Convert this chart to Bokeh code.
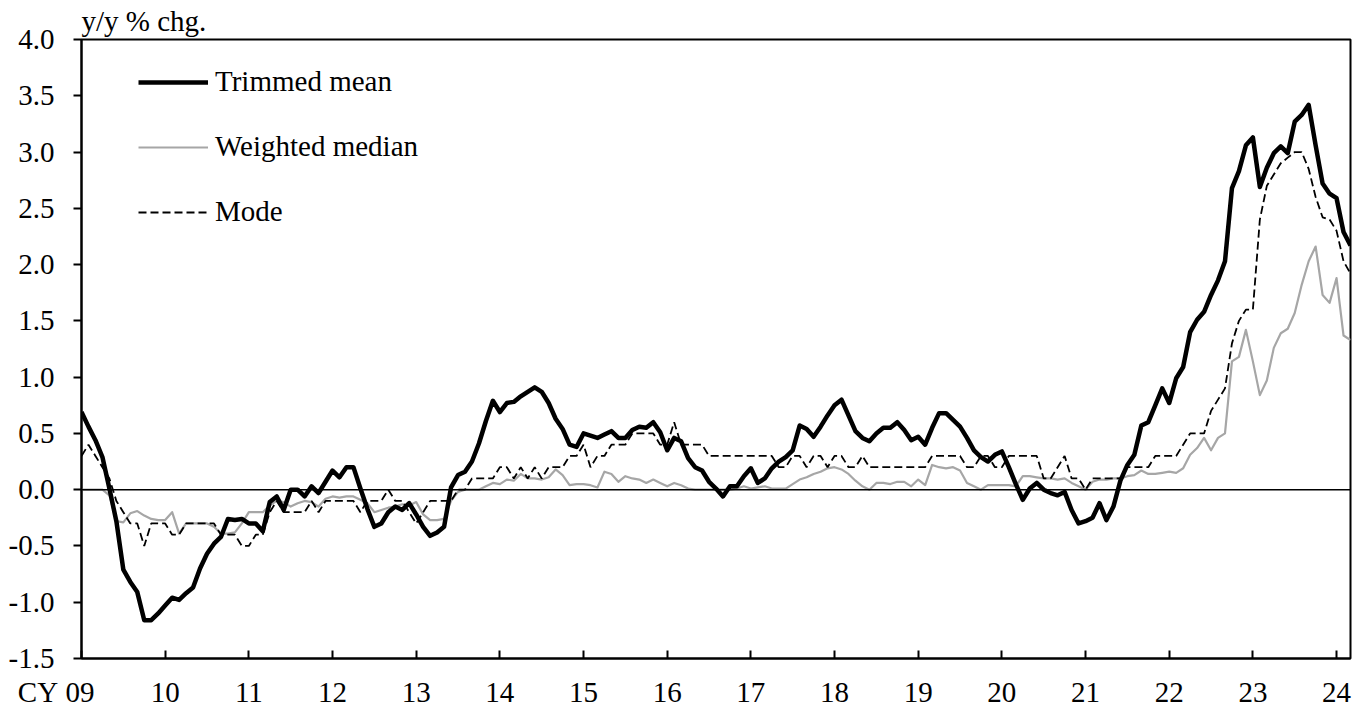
from bokeh.plotting import figure
from bokeh.models import Range1d, FixedTicker, Span, Legend, LegendItem, Title
from bokeh.embed import file_html
from bokeh.resources import INLINE

# Monthly data, Jan 2009 (CY 09) .. Mar 2024, y/y % chg.
trimmed_mean = [
    0.69, 0.56, 0.44, 0.29, 0.01, -0.28, -0.71, -0.82, -0.91, -1.16,
    -1.16, -1.10, -1.03, -0.96, -0.98, -0.92, -0.87, -0.70, -0.57, -0.48,
    -0.42, -0.26, -0.27, -0.26, -0.30, -0.30, -0.37, -0.11, -0.06, -0.18,
    0.00, 0.00, -0.06, 0.03, -0.03, 0.07, 0.17, 0.11, 0.20, 0.20,
    0.01, -0.17, -0.33, -0.30, -0.20, -0.15, -0.18, -0.12, -0.22, -0.33,
    -0.41, -0.38, -0.33, 0.02, 0.13, 0.16, 0.25, 0.41, 0.61, 0.79,
    0.69, 0.77, 0.78, 0.83, 0.87, 0.91, 0.87, 0.77, 0.63, 0.54,
    0.40, 0.38, 0.50, 0.48, 0.46, 0.49, 0.52, 0.46, 0.46, 0.53,
    0.56, 0.55, 0.60, 0.51, 0.35, 0.46, 0.43, 0.28, 0.20, 0.17,
    0.07, 0.01, -0.06, 0.03, 0.03, 0.12, 0.19, 0.06, 0.10, 0.19,
    0.25, 0.29, 0.35, 0.57, 0.54, 0.47, 0.56, 0.66, 0.75, 0.80,
    0.66, 0.52, 0.46, 0.43, 0.50, 0.55, 0.55, 0.60, 0.53, 0.44,
    0.47, 0.40, 0.55, 0.68, 0.68, 0.62, 0.56, 0.46, 0.35, 0.29,
    0.25, 0.31, 0.34, 0.20, 0.05, -0.09, 0.01, 0.06, 0.00, -0.03,
    -0.05, -0.02, -0.18, -0.30, -0.28, -0.25, -0.12, -0.27, -0.15, 0.08,
    0.22, 0.31, 0.57, 0.60, 0.75, 0.90, 0.77, 0.99, 1.09, 1.40,
    1.51, 1.58, 1.73, 1.86, 2.03, 2.68, 2.83, 3.06, 3.13, 2.69,
    2.86, 2.99, 3.05, 2.99, 3.27, 3.33, 3.42, 3.06, 2.72, 2.63,
    2.59, 2.29, 2.17,
]

weighted_median = [
    0.00, 0.00, 0.00, 0.00, -0.05, -0.28, -0.29, -0.21, -0.19, -0.23,
    -0.26, -0.27, -0.27, -0.20, -0.39, -0.30, -0.30, -0.30, -0.30, -0.33,
    -0.39, -0.39, -0.38, -0.30, -0.20, -0.20, -0.20, -0.14, -0.10, -0.11,
    -0.15, -0.12, -0.10, -0.11, -0.15, -0.08, -0.06, -0.07, -0.06, -0.06,
    -0.09, -0.12, -0.20, -0.18, -0.16, -0.15, -0.13, -0.14, -0.11, -0.22,
    -0.27, -0.27, -0.26, -0.10, -0.02, 0.00, 0.00, 0.00, 0.03, 0.06,
    0.05, 0.09, 0.08, 0.14, 0.10, 0.10, 0.09, 0.11, 0.18, 0.13,
    0.04, 0.05, 0.05, 0.04, 0.02, 0.16, 0.14, 0.07, 0.12, 0.10,
    0.09, 0.06, 0.09, 0.06, 0.03, 0.06, 0.04, 0.01, 0.00, 0.00,
    0.00, 0.00, 0.00, 0.00, 0.01, 0.03, 0.01, 0.02, 0.03, 0.01,
    0.01, 0.01, 0.05, 0.09, 0.11, 0.14, 0.16, 0.19, 0.20, 0.18,
    0.14, 0.08, 0.03, 0.00, 0.06, 0.06, 0.05, 0.07, 0.07, 0.03,
    0.09, 0.04, 0.22, 0.20, 0.19, 0.20, 0.17, 0.06, 0.03, 0.00,
    0.04, 0.04, 0.04, 0.04, 0.03, 0.12, 0.12, 0.11, 0.10, 0.10,
    0.09, 0.10, 0.06, 0.03, 0.00, 0.07, 0.09, 0.09, 0.10, 0.10,
    0.12, 0.13, 0.17, 0.14, 0.14, 0.15, 0.16, 0.15, 0.19, 0.31,
    0.37, 0.46, 0.35, 0.46, 0.50, 1.14, 1.18, 1.42, 1.14, 0.84,
    0.97, 1.26, 1.39, 1.43, 1.57, 1.82, 2.03, 2.16, 1.73, 1.66,
    1.88, 1.37, 1.33,
]

mode = [
    0.3, 0.4, 0.3, 0.2, 0.1, -0.1, -0.2, -0.3, -0.3, -0.5,
    -0.3, -0.3, -0.3, -0.4, -0.4, -0.3, -0.3, -0.3, -0.3, -0.3,
    -0.4, -0.4, -0.4, -0.5, -0.5, -0.4, -0.4, -0.2, -0.1, -0.2,
    -0.2, -0.2, -0.2, -0.1, -0.2, -0.1, -0.1, -0.1, -0.1, -0.1,
    -0.2, -0.1, -0.1, -0.1, 0.0, -0.1, -0.1, -0.2, -0.3, -0.2,
    -0.1, -0.1, -0.1, -0.1, 0.0, 0.0, 0.1, 0.1, 0.1, 0.1,
    0.2, 0.2, 0.1, 0.2, 0.1, 0.2, 0.1, 0.2, 0.2, 0.2,
    0.3, 0.3, 0.4, 0.2, 0.3, 0.3, 0.4, 0.4, 0.4, 0.5,
    0.5, 0.5, 0.5, 0.4, 0.4, 0.6, 0.4, 0.4, 0.4, 0.4,
    0.3, 0.3, 0.3, 0.3, 0.3, 0.3, 0.3, 0.3, 0.3, 0.3,
    0.2, 0.2, 0.3, 0.3, 0.2, 0.3, 0.3, 0.2, 0.3, 0.3,
    0.2, 0.2, 0.3, 0.2, 0.2, 0.2, 0.2, 0.2, 0.2, 0.2,
    0.2, 0.2, 0.3, 0.3, 0.3, 0.3, 0.3, 0.2, 0.2, 0.3,
    0.3, 0.2, 0.2, 0.3, 0.3, 0.3, 0.3, 0.3, 0.1, 0.1,
    0.2, 0.3, 0.1, 0.1, 0.0, 0.1, 0.1, 0.1, 0.1, 0.1,
    0.2, 0.2, 0.2, 0.2, 0.3, 0.3, 0.3, 0.3, 0.4, 0.5,
    0.5, 0.5, 0.7, 0.8, 0.9, 1.3, 1.5, 1.6, 1.6, 2.4,
    2.7, 2.8, 2.9, 2.95, 3.0, 3.0, 2.85, 2.6, 2.42, 2.4,
    2.3, 2.03, 1.92,
]

year_labels = ["CY\u00a009" + "\u00a0" * 7, "10", "11", "12", "13", "14", "15", "16",
               "17", "18", "19", "20", "21", "22", "23", "24"]
y_ticks = [-1.5, -1.0, -0.5, 0.0, 0.5, 1.0, 1.5, 2.0, 2.5, 3.0, 3.5, 4.0]
series_names = ["Trimmed mean", "Weighted median", "Mode"]
unit_label = "y/y % chg."

months = list(range(len(trimmed_mean)))
x_ticks = [12 * i for i in range(len(year_labels))]

FONT = "Liberation Serif"
FS = "29px"

p = figure(frame_width=1269, frame_height=619,
           output_backend="svg", toolbar_location=None,
           x_range=Range1d(0, len(months) - 1), y_range=Range1d(y_ticks[0], y_ticks[-1]),
           min_border_left=81, min_border_top=38, min_border_right=12, min_border_bottom=40)

p.grid.visible = False
p.outline_line_color = "black"
p.outline_line_width = 2
p.background_fill_color = "white"
p.border_fill_color = "white"

title = Title(text=unit_label, align="left", standoff=5, text_font=FONT,
              text_font_size=FS, text_font_style="normal", text_color="black")
p.add_layout(title, "above")

xa = p.xaxis[0]
xa.ticker = FixedTicker(ticks=x_ticks)
xa.major_label_overrides = {t: lab for t, lab in zip(x_ticks, year_labels)}
xa.major_tick_in = 8
xa.major_tick_out = 0
xa.minor_tick_in = 0
xa.minor_tick_out = 0
xa.axis_line_width = 2
xa.major_tick_line_width = 2
xa.major_label_standoff = 17
xa.major_label_text_font = FONT
xa.major_label_text_font_size = FS
xa.major_label_text_color = "black"

ya = p.yaxis[0]
ya.ticker = FixedTicker(ticks=y_ticks)
ya.major_label_overrides = {t: f"{t:.1f}" for t in y_ticks}
ya.major_tick_in = 0
ya.major_tick_out = 8
ya.minor_tick_in = 0
ya.minor_tick_out = 0
ya.axis_line_width = 2
ya.major_tick_line_width = 2
ya.major_label_standoff = 19
ya.major_label_text_font = FONT
ya.major_label_text_font_size = FS
ya.major_label_text_color = "black"

p.add_layout(Span(location=0, dimension="width", line_color="black", line_width=1.5))

r_med = p.line(months, weighted_median, line_color="#a6a6a6", line_width=2.2, line_join="round")
r_mode = p.line(months, mode, line_color="black", line_width=1.8, line_dash="8 4")
r_tm = p.line(months, trimmed_mean, line_color="black", line_width=4.5, line_join="round")

legend = Legend(items=[LegendItem(label=series_names[0], renderers=[r_tm]),
                       LegendItem(label=series_names[1], renderers=[r_med]),
                       LegendItem(label=series_names[2], renderers=[r_mode])],
                location=(57, 430), orientation="vertical",
                glyph_width=70, glyph_height=20, label_height=20, spacing=32,
                padding=0, margin=0, border_line_color=None, background_fill_alpha=0,
                label_text_font=FONT, label_text_font_size=FS, label_text_color="black",
                label_standoff=7)
p.add_layout(legend)

open("out.html", "w").write(file_html(p, INLINE))
